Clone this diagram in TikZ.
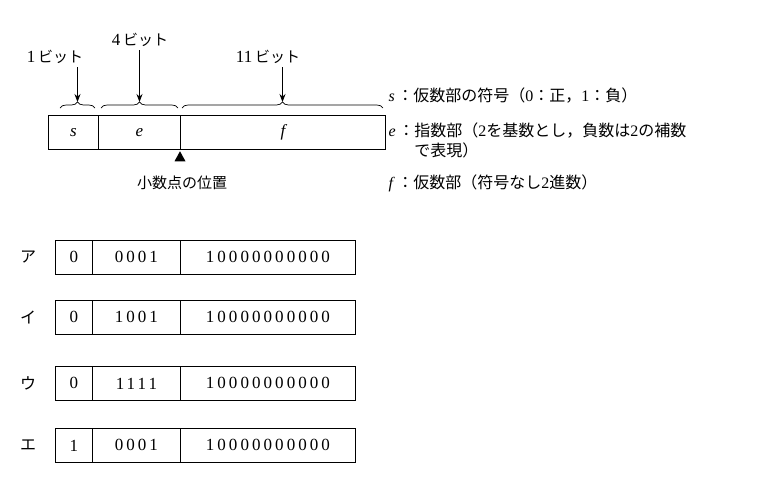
\documentclass[tikz,border=0pt]{standalone}
\usepackage{fontspec}
\setmainfont{Liberation Serif}
\newfontfamily\cjk{Noto Sans CJK JP}
\newfontfamily\spc[LetterSpace=18]{Liberation Serif}
\usetikzlibrary{decorations.pathreplacing,arrows.meta,shapes.geometric}
\begin{document}
\begin{tikzpicture}[x=1pt,y=-1pt,
  box/.style={draw,line width=0.8pt,minimum height=34pt,inner sep=0,anchor=north west,font=\spc\fontsize{17}{19}\selectfont},
  brc/.style={decorate,decoration={brace,amplitude=6pt},line width=0.7pt},
  arr/.style={-{Stealth[length=8pt]},line width=0.8pt},
  lab/.style={font=\fontsize{17}{19}\selectfont},
  leg/.style={font=\fontsize{16}{20}\selectfont,anchor=west,align=left}]
\useasboundingbox (0,0) rectangle (758,482);
\node[box,minimum width=50pt] (s) at (48,115) {\itshape s};
\node[box,minimum width=82pt] (e) at (98,115) {\itshape e};
\node[box,minimum width=205pt] (f) at (180,115) {\itshape f};
\draw[brc] (60,108) -- (95,108) coordinate[midway,above=6pt] (bs);
\draw[brc] (101,108) -- (178,108) coordinate[midway,above=6pt] (be);
\draw[brc] (182,108) -- (383,108) coordinate[midway,above=6pt] (bf);
\node[lab] (l1) at (55,57) {1\,{\cjk\fontsize{15}{17}\selectfont ビット}};
\node[lab] (l4) at (140,40) {4\,{\cjk\fontsize{15}{17}\selectfont ビット}};
\node[lab] (l11) at (268,57) {11\,{\cjk\fontsize{15}{17}\selectfont ビット}};
\draw[arr] (l1.south -| bs) -- (bs);
\draw[arr] (l4.south -| be) -- (be);
\draw[arr] (l11.south -| bf) -- (bf);
\node[fill,isosceles triangle,shape border rotate=90,isosceles triangle stretches,inner sep=0,minimum width=11pt,minimum height=10pt] (tri) at (180,158) {};
\node[font=\cjk\fontsize{15}{17}\selectfont] (pt) at (182,183) {小数点の位置};
\node[leg] (ls) at (385,96) {\textit{s}\,{\cjk ：仮数部の符号（}0{\cjk ：正，}1{\cjk ：負）}};
\node[leg] (le) at (385,140) {\textit{e}\,{\cjk ：指数部（}2{\cjk を基数とし，負数は}2{\cjk の補数}\\\phantom{\textit{e}\,{\cjk ：}}{\cjk で表現）}};
\node[leg] (lf) at (385,183) {\textit{f}\,{\cjk ：仮数部（符号なし}2{\cjk 進数）}};
\foreach \k/\y/\a/\b in {ア/240/0/0001, イ/300/0/1001, ウ/366/0/1111, エ/428/1/0001}{
  \node[font=\cjk\fontsize{16}{18}\selectfont] (k\y) at (28,\y+17) {\k};
  \node[box,minimum width=37pt] (a\y) at (55,\y) {\a};
  \node[box,minimum width=88pt] (b\y) at (92,\y) {\b};
  \node[box,minimum width=175pt] (c\y) at (180,\y) {10000000000};
}
\end{tikzpicture}
\end{document}
